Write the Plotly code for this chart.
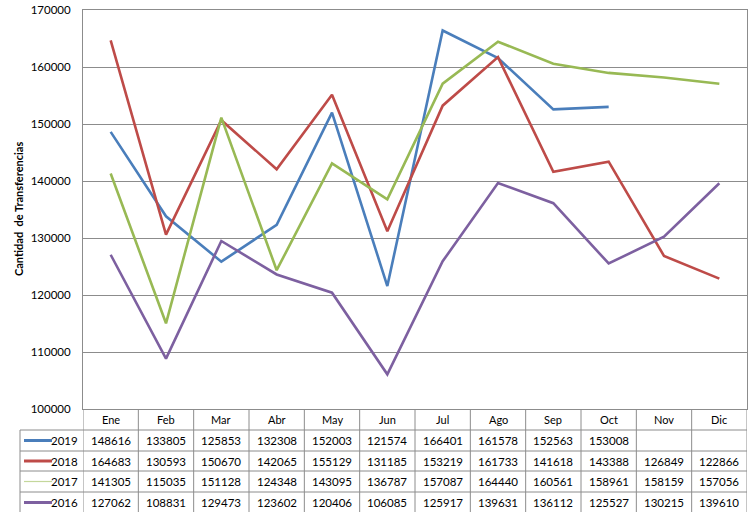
import plotly.graph_objects as go

months = ["Ene", "Feb", "Mar", "Abr", "May", "Jun", "Jul", "Ago", "Sep", "Oct", "Nov", "Dic"]
years = ["2019", "2018", "2017", "2016"]
v2019 = [148616, 133805, 125853, 132308, 152003, 121574, 166401, 161578, 152563, 153008, None, None]
v2018 = [164683, 130593, 150670, 142065, 155129, 131185, 153219, 161733, 141618, 143388, 126849, 122866]
v2017 = [141305, 115035, 151128, 124348, 143095, 136787, 157087, 164440, 160561, 158961, 158159, 157056]
v2016 = [127062, 108831, 129473, 123602, 120406, 106085, 125917, 139631, 136112, 125527, 130215, 139610]
series = [v2019, v2018, v2017, v2016]
colors = ["#4A7EBB", "#BE4B48", "#98B954", "#7D60A0"]
legend_colors = ["#4A7EBB", "#BE4B48", "#C4D79B", "#7D60A0"]
legend_widths = [3, 3, 1.2, 3]

W, H = 750, 512
L, R, T, B = 83, 747, 10, 409
FONT = "Lato"

def px_x(p):
    return (p - L) / (R - L)

def px_y(p):
    return (B - p) / (B - T)

fig = go.Figure()
x = list(range(len(months)))
for name, vals, c in zip(years, series, colors):
    fig.add_trace(go.Scatter(x=x, y=vals, mode="lines", name=name,
                             line=dict(color=c, width=2.6), connectgaps=False,
                             showlegend=False))

shapes = []
annots = []
row_edges = [409, 430, 451, 471, 492, 513]
grid = "#8C8C8C"
# vertical column lines
for i in range(len(months) + 1):
    shapes.append(dict(type="line", xref="x", yref="paper", x0=i - 0.5, x1=i - 0.5,
                       y0=px_y(409), y1=px_y(513), line=dict(color=grid, width=1)))
# left border of label column
shapes.append(dict(type="line", xref="paper", yref="paper", x0=px_x(20), x1=px_x(20),
                   y0=px_y(430), y1=px_y(513), line=dict(color=grid, width=1)))
# horizontal row lines
for j, e in enumerate(row_edges[1:-1]):
    shapes.append(dict(type="line", xref="paper", yref="paper", x0=px_x(20), x1=1,
                       y0=px_y(e), y1=px_y(e), line=dict(color=grid, width=1)))
# header
for i, m in enumerate(months):
    annots.append(dict(x=i, y=px_y((409 + 430) / 2), xref="x", yref="paper", text=m,
                       showarrow=False, font=dict(family=FONT, size=11, color="#000"),
                       xanchor="center", yanchor="middle"))
# rows
for r, (yr, vals) in enumerate(zip(years, series)):
    yc = (row_edges[r + 1] + row_edges[r + 2]) / 2
    for i, v in enumerate(vals):
        if v is None:
            continue
        annots.append(dict(x=i, y=px_y(yc), xref="x", yref="paper", text=str(v),
                           showarrow=False, font=dict(family=FONT, size=11.5, color="#000"),
                           xanchor="center", yanchor="middle"))
    annots.append(dict(x=px_x(80), y=px_y(yc), xref="paper", yref="paper", text=yr,
                       showarrow=False, font=dict(family=FONT, size=11.5, color="#000"),
                       xanchor="right", yanchor="middle"))
    shapes.append(dict(type="line", xref="paper", yref="paper", x0=px_x(24), x1=px_x(52),
                       y0=px_y(yc), y1=px_y(yc),
                       line=dict(color=legend_colors[r], width=legend_widths[r])))

annots.append(dict(x=px_x(18), y=px_y(209), xref="paper", yref="paper",
                   text="<b>Cantidad  de Transferencias</b>", textangle=-90,
                   showarrow=False, font=dict(family=FONT, size=11, color="#000"),
                   xanchor="center", yanchor="middle"))

fig.update_layout(
    width=W, height=H,
    margin=dict(l=L, r=W - R, t=T, b=H - B),
    paper_bgcolor="white", plot_bgcolor="white",
    shapes=shapes, annotations=annots,
    xaxis=dict(range=[-0.5, 11.5], showticklabels=False, showgrid=False, zeroline=False,
               showline=True, linecolor=grid, mirror=True, fixedrange=True),
    yaxis=dict(range=[100000, 170000], dtick=10000, tickformat="d", showgrid=True,
               gridcolor=grid, gridwidth=1, zeroline=False, showline=True, linecolor=grid,
               mirror=True, ticks="", tickfont=dict(family=FONT, size=11.5, color="#000"),
               ticklabelstandoff=9),
)

fig.write_html("out.html")
